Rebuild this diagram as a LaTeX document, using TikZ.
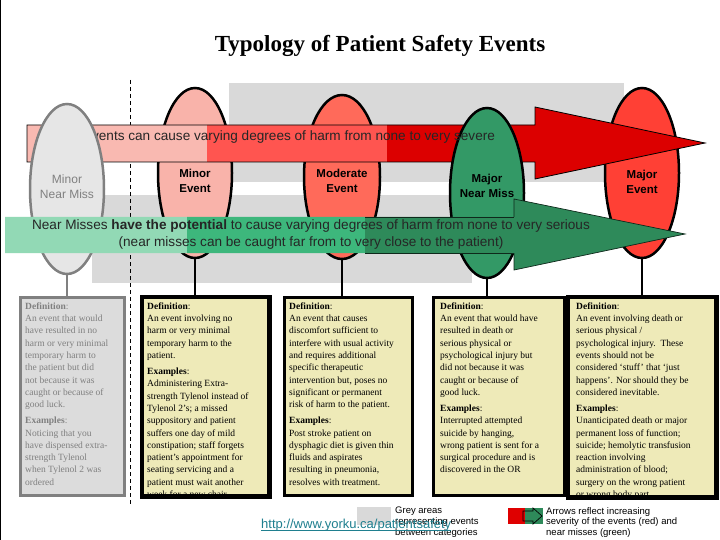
\documentclass[tikz,border=0pt]{standalone}
\usepackage{fontspec}
\setmainfont{Liberation Serif}
\setsansfont{Liberation Sans}
\usetikzlibrary{shapes.geometric}
\definecolor{greyarea}{HTML}{D9D9D9}
\definecolor{boxfill}{HTML}{EEEAB8}
\definecolor{nmfill}{HTML}{E6E6E6}
\definecolor{nmbox}{HTML}{DCDCDC}
\definecolor{nmline}{HTML}{808080}
\definecolor{minorfill}{HTML}{F9B3AA}
\definecolor{modfill}{HTML}{FF6A5A}
\definecolor{majnmfill}{HTML}{339966}
\definecolor{majfill}{HTML}{FF4035}
\definecolor{redA}{HTML}{F9B9B1}
\definecolor{redB}{HTML}{FF5550}
\definecolor{redC}{HTML}{DC0000}
\definecolor{grnA}{HTML}{92D9B5}
\definecolor{grnB}{HTML}{3DB77C}
\definecolor{grnC}{HTML}{2E8A5A}
\definecolor{urlcol}{HTML}{1F7F8F}
\tikzset{
  evt/.style={ellipse, draw=black, line width=2.5pt, inner sep=0pt, minimum width=74pt, minimum height=170pt},
  evtlabel/.style={font=\sffamily\bfseries\fontsize{11.5}{15}\selectfont, align=center, inner sep=0pt},
  defbox/.style={rectangle, draw=black, line width=3pt, fill=boxfill, inner sep=0pt, anchor=north west},
  boxline/.style={draw=black, line width=3pt},
  deftext/.style={anchor=north west, inner sep=0pt, align=left, font=\fontsize{9.5}{12.3}\selectfont},
  stemline/.style={line width=2.5pt},
  arrowtext/.style={font=\sffamily\fontsize{13.6}{17}\selectfont, text=black!85, inner sep=0pt, align=center},
  legendtext/.style={font=\sffamily\fontsize{9.5}{10.8}\selectfont, anchor=north west, inner sep=0pt, align=left},
}
\begin{document}
\begin{tikzpicture}[x=1pt,y=-1pt]
\useasboundingbox (0,0) rectangle (720,540);
\fill[white] (0,0) rectangle (720,540);
\coordinate (lt) at (0.6,0);
\coordinate (lb) at (0.6,540);
\draw[line width=1.2pt] (lt) -- (lb);

% title
\node[anchor=base, inner sep=0pt, font=\bfseries\fontsize{23}{28}\selectfont] (title) at (380,52) {Typology of Patient Safety Events};

% grey areas
\fill[greyarea] (229,83) rectangle (624,182);
\fill[greyarea] (92,195) rectangle (472,283);

% dashed separator
\coordinate (dtop) at (130,80);
\coordinate (dbot) at (130,505);
\draw[line width=0.9pt, dash pattern=on 4pt off 3pt] (dtop) -- (dbot);

% events under the red arrow
\node[evt, fill=minorfill] (e2) at (195,173) {};
\node[evt, fill=modfill, minimum width=76pt, minimum height=164pt] (e3) at (342,177) {};
\node[evt, fill=majfill] (e5) at (642,173) {};
\node[evtlabel] (l2) at (195,181) {Minor\\Event};
\node[evtlabel] (l3) at (342,181) {Moderate\\Event};
\node[evtlabel] (l5) at (642,182) {Major\\Event};

% red arrow
\begin{scope}
\clip (27,125) -- (535,125) -- (535,107) -- (705,143) -- (535,179) -- (535,162) -- (27,162) -- cycle;
\fill[redA] (20,100) rectangle (207,190);
\fill[redB] (207,100) rectangle (387,190);
\fill[redC] (387,100) rectangle (710,190);
\end{scope}
\draw[line width=0.8pt] (27,125) -- (535,125) -- (535,107) -- (705,143) -- (535,179) -- (535,162) -- (27,162) -- cycle;

% major near miss on top of the red arrow, under its text
\node[evt, fill=majnmfill] (e4) at (487,193) {};
\node[evtlabel] (l4) at (487,186) {Major\\Near Miss};
\node[arrowtext] (redtext) at (289,137) {Events can cause varying degrees of harm from none to very severe};

% minor near miss on top of the red arrow and its text
\node[evt, fill=nmfill, draw=nmline] (e1) at (67,189) {};
\node[inner sep=0pt, align=center, text=nmline, font=\sffamily\fontsize{12}{15}\selectfont] (l1) at (67,187) {Minor\\Near Miss};

% green arrow
\begin{scope}
\clip (5,217) -- (514,217) -- (514,199) -- (685,234) -- (514,270) -- (514,253) -- (5,253) -- cycle;
\fill[grnA] (0,190) rectangle (187,280);
\fill[grnB] (187,190) rectangle (365,280);
\fill[grnC] (365,190) rectangle (690,280);
\end{scope}
\draw[line width=0.7pt, draw=black!70!grnC] (514,217) -- (514,199) -- (685,234) -- (514,270) -- (514,253);
\draw[line width=0.7pt, draw=black!70!grnC] (365,217) -- (514,217);
\draw[line width=0.7pt, draw=black!70!grnC] (365,253) -- (514,253);
\node[arrowtext] (grntext) at (311,234.5) {Near Misses \textbf{have the potential} to cause varying degrees of harm from none to very serious\\(near misses can be caught far from to very close to the patient)};

% definition boxes
\node[defbox, fill=nmbox, draw=nmline, minimum width=104pt, minimum height=198pt] (b1) at (19,296) {};
\node[defbox, minimum width=126pt, minimum height=198pt] (b2) at (141,296) {};
\node[defbox, minimum width=128pt, minimum height=198pt] (b3) at (283,296) {};
\node[defbox, minimum width=131pt, minimum height=198pt] (b4) at (432,296) {};
\node[defbox, minimum width=147pt, minimum height=199pt] (b5) at (567,296) {};

% stems
\draw[stemline, draw=nmline] (e1.south) -- (e1.south |- b1.north);
\draw[stemline] (e2.south) -- (e2.south |- b2.north);
\draw[stemline] (e3.south) -- (e3.south |- b3.north);
\draw[stemline] (e4.south) -- (e4.south |- b4.north);
\draw[stemline] (e5.south) -- (e5.south |- b5.north);

\node[deftext, text=nmline] (t1) at (25,302.5) {\textbf{Definition}:\\
An event that would\\have resulted in no\\harm or very minimal\\temporary harm to\\the patient but did\\not because it was\\caught or because of\\good luck.\\[3.7pt]
\textbf{Examples}:\\Noticing that you\\have dispensed extra-\\strength Tylenol\\when Tylenol 2 was\\ordered};

\node[deftext] (t2) at (147,302.5) {\textbf{Definition}:\\
An event involving no\\harm or very minimal\\temporary harm to the\\patient.\\[3.7pt]
\textbf{Examples}:\\Administering Extra-\\strength Tylenol instead of\\Tylenol 2’s; a missed\\suppository and patient\\suffers one day of mild\\constipation; staff forgets\\patient’s appointment for\\seating servicing and a\\patient must wait another\\week for a new chair};

\node[deftext] (t3) at (289,302.5) {\textbf{Definition}:\\
An event that causes\\discomfort sufficient to\\interfere with usual activity\\and requires additional\\specific therapeutic\\intervention but, poses no\\significant or permanent\\risk of harm to the patient.\\[3.7pt]
\textbf{Examples}:\\Post stroke patient on\\dysphagic diet is given thin\\fluids and aspirates\\resulting in pneumonia,\\resolves with treatment.};

\node[deftext] (t4) at (440,302.5) {\textbf{Definition}:\\
An event that would have\\resulted in death or\\serious physical or\\psychological injury but\\did not because it was\\caught or because of\\good luck.\\[3.7pt]
\textbf{Examples}:\\Interrupted attempted\\suicide by hanging,\\wrong patient is sent for a\\surgical procedure and is\\discovered in the OR};

\node[deftext] (t5) at (576,302.5) {\textbf{Definition}:\\
An event involving death or\\serious physical /\\psychological injury.~~These\\events should not be\\considered ‘stuff’ that ‘just\\happens’. Nor should they be\\considered inevitable.\\[3.7pt]
\textbf{Examples}:\\Unanticipated death or major\\permanent loss of function;\\suicide; hemolytic transfusion\\reaction involving\\administration of blood;\\surgery on the wrong patient\\or wrong body part.};

% borders redrawn over overflowing text
\draw[boxline] (b2.south west) rectangle (b2.north east);
\draw[boxline] (b5.south west) rectangle (b5.north east);

% legend
\fill[greyarea] (357,507) rectangle (391,525);
\node[legendtext] (lg1) at (395,507) {Grey areas\\representing events\\between categories};
\node[anchor=base west, inner sep=0pt, text=urlcol, font=\sffamily\fontsize{13}{15}\selectfont] (url) at (261,528) {http://www.yorku.ca/patientsafety};
\draw[urlcol, line width=0.8pt] (url.base west) ++(0,2) coordinate (u1) -- (url.base east |- u1);
\fill[redC!90!red] (508,508) rectangle (525,524);
\fill[grnC] (525,508) rectangle (543,524);
\draw[line width=0.7pt] (523,511) -- (533,511) -- (533,508) -- (542,516) -- (533,524) -- (533,521) -- (523,521) -- cycle;
\node[legendtext] (lg2) at (546,507) {Arrows reflect increasing\\severity of the events (red) and\\near misses (green)};
\end{tikzpicture}
\end{document}
